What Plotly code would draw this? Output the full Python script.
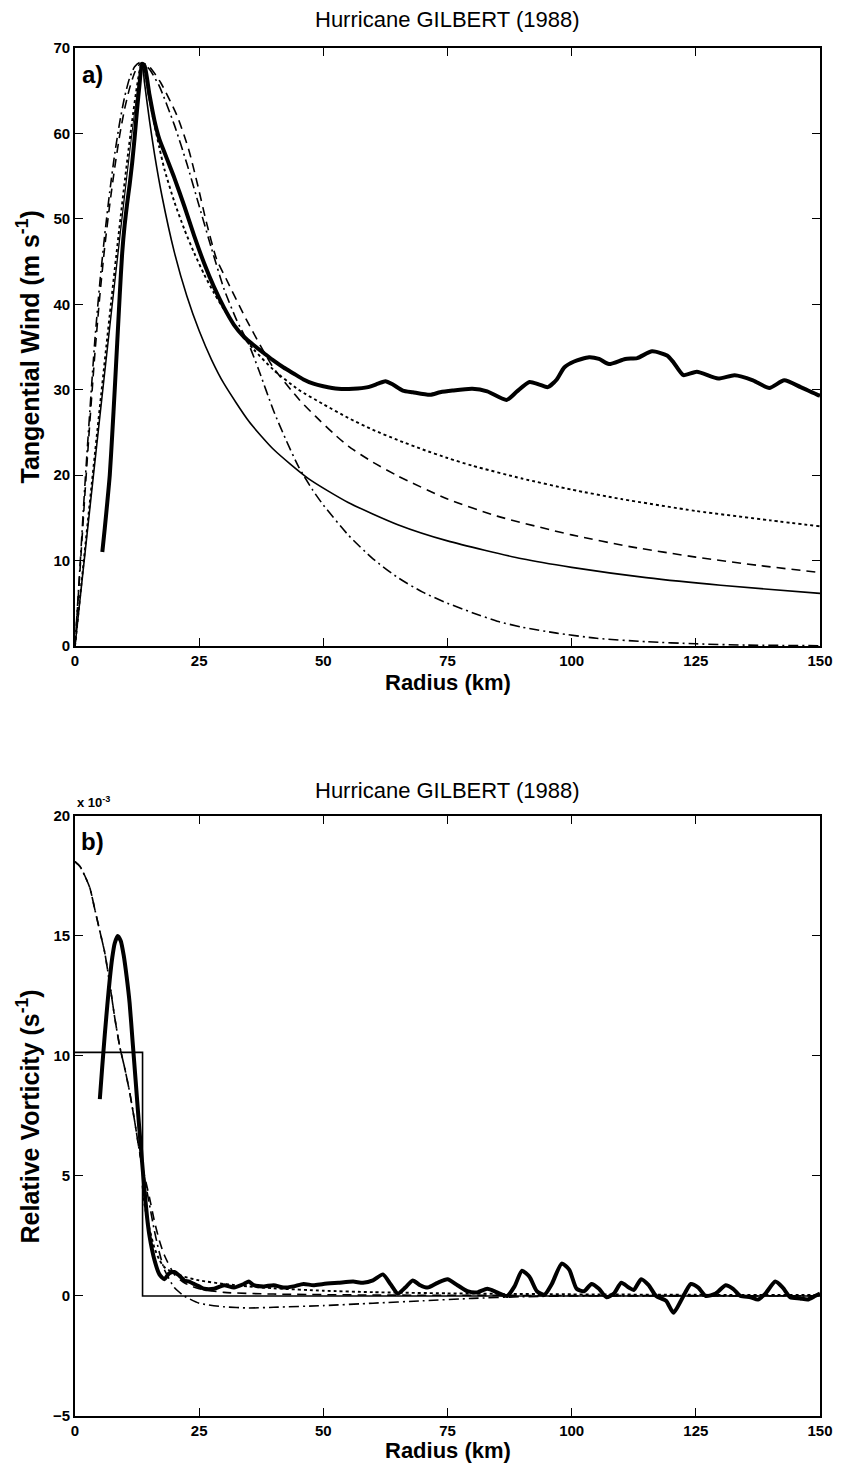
import plotly.graph_objects as go

# ---------------- Panel a) tangential wind (m/s) ----------------
r_obs = [5.5, 6.0, 6.5, 7.0, 7.5, 8.0, 8.5, 9.0, 9.5, 10.0, 10.5, 11.0, 11.5, 12.0, 12.5, 13.0, 13.5, 14.0,
         15, 16, 17, 18, 19, 20, 22, 24, 26, 28, 30, 32, 34, 36, 38, 40, 42, 44, 46, 48, 50, 53, 56, 59, 61,
         62.5, 64, 66, 68, 71.5, 73.5, 76, 80, 83, 86.9, 89, 91.5, 93.5, 95.2, 97, 98.5, 100.5, 103.5, 105.5,
         107.5, 110.8, 113.2, 116.2, 119.2, 120.5, 122.5, 125.2, 129.5, 132.8, 136.5, 139.8, 142.8, 146.1, 149.5, 150]
v_obs = [11.0, 13.8, 16.8, 20.0, 24.8, 30.0, 35.5, 41.0, 46.0, 49.3, 51.8, 54.0, 56.5, 59.5, 62.8, 65.8, 68.1, 67.9,
         64.5, 61.5, 59.3, 57.8, 56.3, 54.8, 51.5, 48.0, 44.8, 42.0, 39.6, 37.6, 36.2, 35.2, 34.3, 33.4, 32.6, 31.9,
         31.2, 30.7, 30.4, 30.1, 30.1, 30.3, 30.7, 31.0, 30.6, 29.9, 29.7, 29.4, 29.7, 29.9, 30.1, 29.8, 28.8, 29.8,
         30.9, 30.6, 30.3, 31.2, 32.6, 33.3, 33.8, 33.6, 33.0, 33.6, 33.7, 34.5, 34.0, 33.2, 31.7, 32.1, 31.3, 31.7,
         31.1, 30.2, 31.1, 30.3, 29.4, 29.3]

r_rank = [0, 13.5, 14, 15, 16, 17.5, 20, 22.5, 25, 27.5, 30, 35, 40, 47, 55, 65, 75, 90, 100, 115, 130, 150]
v_rank = [0, 68.3, 65.9, 61.5, 57.6, 52.7, 46.1, 41.0, 36.9, 33.5, 30.7, 26.3, 23.0, 19.6, 16.8, 14.2, 12.3,
          10.2, 9.2, 8.0, 7.1, 6.15]

r_dot = [0, 13.5, 15, 16, 17, 18, 20, 22, 24, 26, 28, 30, 33, 36, 40, 45, 50, 55, 60, 65, 70, 75, 80, 90,
         100, 110, 125, 140, 150]
v_dot = [0, 68.3, 64.0, 61.0, 58.3, 55.8, 52.0, 48.8, 46.0, 43.5, 41.3, 39.4, 36.8, 34.7, 32.3, 30.0, 28.3,
         26.7, 25.3, 24.1, 23.0, 22.0, 21.1, 19.6, 18.3, 17.2, 15.8, 14.7, 14.0]

r_dash = [0, 1, 2, 3, 4, 5, 6, 7, 8, 9, 10, 11, 12, 13, 13.5, 15, 17.3, 20.6, 22.9, 24.6, 26.5, 28.5, 30.5,
          34.5, 39.8, 45.2, 48.4, 52, 55, 60, 65, 75, 85, 100, 112, 125, 138, 150]
v_dash = [0, 8.8, 17.8, 26.3, 34.2, 41.0, 46.8, 51.7, 56.0, 59.8, 62.9, 65.3, 67.1, 68.1, 68.3, 67.8, 65.9,
          62.0, 58.1, 54.2, 49.5, 45.3, 42.9, 38.2, 32.7, 28.8, 26.9, 24.9, 23.4, 21.5, 19.9, 17.2, 15.2, 13.0,
          11.6, 10.4, 9.4, 8.6]

r_dd = [0, 1, 2, 3, 4, 5, 6, 7, 8, 9, 10, 11, 12, 13, 13.5, 15, 17, 20, 22.5, 25, 27.5, 30, 32.5, 35, 37,
        40, 42.5, 45, 47.8, 50, 55, 60, 65, 70, 75, 80, 85, 90, 97, 105, 115, 125, 135, 150]
v_dd = [0, 9.3, 18.9, 27.6, 35.8, 42.5, 48.2, 53.2, 57.6, 61.3, 64.3, 66.5, 67.8, 68.3, 68.3, 67.5, 65.5,
        61.0, 56.5, 51.5, 46.5, 41.8, 38.2, 35.3, 32.3, 27.5, 24.1, 21.0, 18.3, 16.5, 13.0, 10.2, 8.0, 6.3,
        5.0, 3.9, 2.9, 2.2, 1.5, 0.9, 0.5, 0.25, 0.1, 0.03]

# ---------------- Panel b) relative vorticity (x 1e-3 s^-1) ----------------
r_zobs = [5.0, 5.5, 6.0, 6.5, 7.0, 7.5, 8.0, 8.6, 9.2, 9.8, 10.4, 11.0, 11.6, 12.2, 12.9, 13.5, 14.0, 14.5,
          15, 16, 17, 18, 19, 20, 21, 22, 23, 24, 25, 26, 28, 30, 32, 34, 35, 36, 38, 40, 42, 44, 46, 48, 50,
          53, 56, 58, 60, 62, 63.5, 65, 66.5, 68, 69.5, 71, 73, 75, 77, 79, 81, 83, 85, 87, 88.5, 90, 91.5,
          93, 94.5, 96, 98, 99.5, 101, 102.5, 104, 105.5, 107, 108.5, 110, 111.5, 112.5, 114, 115.5, 117, 119,
          120.5, 122, 124, 125.5, 127, 129, 131, 132.5, 134, 136, 137.5, 139, 141, 142.5, 144, 146, 147.5, 149, 150]
z_obs = [8.2, 9.6, 10.9, 12.1, 13.2, 14.1, 14.7, 15.0, 14.8, 14.2, 13.3, 12.2, 10.6, 9.0, 7.1, 5.6, 4.4, 3.3,
         2.5, 1.5, 0.9, 0.7, 0.95, 1.0, 0.85, 0.65, 0.6, 0.5, 0.4, 0.3, 0.3, 0.45, 0.35, 0.5, 0.6, 0.45, 0.4,
         0.45, 0.35, 0.4, 0.5, 0.45, 0.5, 0.55, 0.6, 0.55, 0.65, 0.9, 0.5, 0.1, 0.35, 0.65, 0.45, 0.35, 0.55,
         0.7, 0.45, 0.2, 0.15, 0.3, 0.15, 0.0, 0.4, 1.05, 0.8, 0.2, 0.05, 0.5, 1.35, 1.1, 0.3, 0.2, 0.5, 0.3,
         -0.05, 0.1, 0.55, 0.35, 0.25, 0.7, 0.45, 0.0, -0.2, -0.7, -0.2, 0.5, 0.35, 0.0, 0.1, 0.45, 0.3, 0.0,
         -0.05, -0.15, 0.1, 0.6, 0.35, -0.05, -0.1, -0.15, 0.0, 0.1]

r_zrank = [0, 13.6, 13.6, 150]
z_zrank = [10.15, 10.15, 0, 0]

r_zdot = [13.6, 14, 15, 16, 17, 18, 20, 22, 25, 30, 35, 40, 50, 60, 75, 100, 125, 150]
z_zdot = [4.6, 3.8, 2.8, 2.0, 1.5, 1.2, 0.95, 0.8, 0.65, 0.5, 0.4, 0.32, 0.22, 0.16, 0.11, 0.07, 0.05, 0.04]

r_zdash = [0, 1, 2, 3, 4, 5, 6, 7, 8, 9, 10, 11, 12, 13, 14, 15, 16, 17, 18, 20, 22, 25, 30, 40, 60, 100, 150]
z_zdash = [18.1, 17.9, 17.5, 17.0, 16.1, 15.2, 14.3, 13.0, 11.6, 10.4, 9.5, 8.5, 7.3, 6.0, 5.0, 4.1, 3.1, 2.3,
           1.7, 0.9, 0.55, 0.3, 0.15, 0.08, 0.04, 0.02, 0.01]

r_zdd = [0, 1, 2, 3, 4, 5, 6, 7, 8, 9, 10, 11, 12, 13, 14, 15, 16, 17, 18, 20, 22, 25, 30, 35, 40, 50, 60, 70,
         80, 90, 100, 150]
z_zdd = [18.1, 17.9, 17.5, 17.0, 16.1, 15.2, 14.3, 13.0, 11.6, 10.4, 9.5, 8.5, 7.3, 6.0, 4.9, 3.8, 2.7, 1.8,
         1.1, 0.35, 0.0, -0.3, -0.45, -0.5, -0.47, -0.4, -0.3, -0.2, -0.1, -0.03, 0.0, 0.0]

x_ticks = [0, 25, 50, 75, 100, 125, 150]
ya_ticks = [0, 10, 20, 30, 40, 50, 60, 70]
yb_ticks = [-5, 0, 5, 10, 15, 20]

TITLE = "Hurricane GILBERT (1988)"
FONT = "Liberation Sans, Arial, Helvetica, sans-serif"

fig = go.Figure()

def add(x, y, xa, ya, width, dash, shape="spline"):
    fig.add_trace(go.Scatter(x=x, y=y, xaxis=xa, yaxis=ya, mode="lines",
                             line=dict(color="black", width=width, dash=dash, shape=shape,
                                       smoothing=0.6 if shape == "spline" else None),
                             showlegend=False, hoverinfo="skip"))

DASH = "9px,6px"
DASHDOT = "10px,4px,2px,4px"

# panel a
add(r_dd, v_dd, "x", "y", 1.6, DASHDOT)
add(r_dash, v_dash, "x", "y", 1.6, DASH)
add(r_dot, v_dot, "x", "y", 1.9, "dot")
add(r_rank, v_rank, "x", "y", 1.6, "solid")
add(r_obs, v_obs, "x", "y", 4.0, "solid")

# panel b
add(r_zdd, z_zdd, "x2", "y2", 1.6, DASHDOT)
add(r_zdash, z_zdash, "x2", "y2", 1.6, DASH)
add(r_zdot, z_zdot, "x2", "y2", 1.9, "dot")
add(r_zrank, z_zrank, "x2", "y2", 1.6, "solid", shape="linear")
add(r_zobs, z_obs, "x2", "y2", 4.0, "solid")

tickfont = dict(family=FONT, size=15, color="black", weight="bold")
axis_common = dict(showgrid=False, zeroline=False, showline=True, linecolor="black", linewidth=1.6,
                   mirror="ticks", ticks="inside", ticklen=8, tickwidth=1.3, tickcolor="black",
                   tickfont=tickfont)

fig.update_layout(
    width=845, height=1473,
    margin=dict(l=75, r=18, t=48, b=57),
    paper_bgcolor="white", plot_bgcolor="white",
    xaxis=dict(domain=[0, 1], range=[0, 150], tickvals=x_ticks, anchor="y", **axis_common),
    yaxis=dict(domain=[0.5629, 1.0], range=[0, 70], tickvals=ya_ticks, anchor="x", **axis_common),
    xaxis2=dict(domain=[0, 1], range=[0, 150], tickvals=x_ticks, anchor="y2", **axis_common),
    yaxis2=dict(domain=[0.0, 0.4386], range=[-5, 20], tickvals=yb_ticks, anchor="x2", **axis_common),
)

ann = []
def text(x, y, s, size, angle=0, weight="normal", xanchor="center", yanchor="middle"):
    ann.append(dict(x=x, y=y, xref="paper", yref="paper", text=s, showarrow=False, textangle=angle,
                    font=dict(family=FONT, size=size, color="black", weight=weight),
                    xanchor=xanchor, yanchor=yanchor))

text(0.5, 1.0205, TITLE, 22)
text(0.5, 0.4576, TITLE, 22)
text(0.5, 0.5365, "Radius (km)", 22, weight="bold")
text(0.5, -0.0255, "Radius (km)", 22, weight="bold")
text(-0.0625, 0.7814, "Tangential Wind (m s<sup>-1</sup>)", 25, angle=-90, weight="bold")
text(-0.0625, 0.2193, "Relative Vorticity (s<sup>-1</sup>)", 25, angle=-90, weight="bold")
text(0.007, 0.9803, "a)", 24, weight="bold", xanchor="left")
text(0.005, 0.4196, "b)", 24, weight="bold", xanchor="left")
text(0.0, 0.4485, "x 10<sup>-3</sup>", 13, weight="bold", xanchor="left")

fig.update_layout(annotations=ann)
fig.write_html("out.html")
